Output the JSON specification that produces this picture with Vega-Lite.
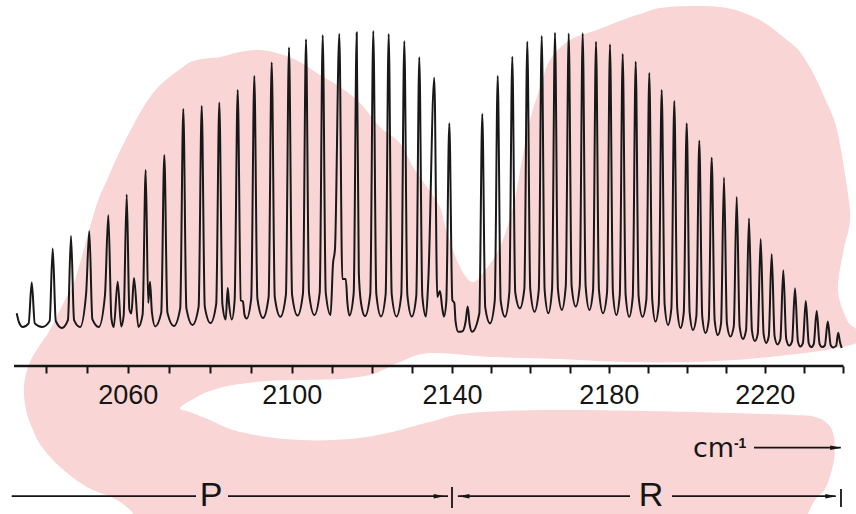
{
  "$schema": "https://vega.github.io/schema/vega-lite/v6.json",
  "width": 856,
  "height": 514,
  "padding": 0,
  "autosize": {"type": "none"},
  "background": "white",
  "config": {"view": {"stroke": null}},
  "datasets": {
    "blob": [
      {"o":1,"x":2072.76,"y":-26},{"o":2,"x":2076.41,"y":-22.67},{"o":3,"x":2080.07,"y":-20.33},{"o":4,"x":2085.68,"y":-18.33},
      {"o":5,"x":2093.98,"y":-17},{"o":6,"x":2102.07,"y":-16.67},{"o":7,"x":2112.05,"y":-16.33},{"o":8,"x":2119.54,"y":-15},
      {"o":9,"x":2123.28,"y":-13},{"o":10,"x":2127.02,"y":-10.67},{"o":11,"x":2134.51,"y":-7.67},{"o":12,"x":2150.47,"y":-9},
      {"o":13,"x":2167.31,"y":-9.67},{"o":14,"x":2184.44,"y":-10.67},{"o":15,"x":2201.62,"y":-10.67},{"o":16,"x":2218.54,"y":-9.33},
      {"o":17,"x":2235.72,"y":-6.67},{"o":18,"x":2244.0,"y":-4},{"o":19,"x":2243.6,"y":0},{"o":20,"x":2241.1,"y":3.33},
      {"o":21,"x":2238.79,"y":13.33},{"o":22,"x":2240.08,"y":25.67},{"o":23,"x":2241.87,"y":36.67},{"o":24,"x":2241.1,"y":47.67},
      {"o":25,"x":2238.54,"y":66.67},{"o":26,"x":2235.97,"y":75.67},{"o":27,"x":2232.38,"y":85.67},{"o":28,"x":2229.05,"y":92.67},
      {"o":29,"x":2225.72,"y":96.67},{"o":30,"x":2218.79,"y":103.33},{"o":31,"x":2210.33,"y":107.33},{"o":32,"x":2200.85,"y":108},
      {"o":33,"x":2193.15,"y":107.33},{"o":34,"x":2188.03,"y":105.33},{"o":35,"x":2182.13,"y":102.67},{"o":36,"x":2177.01,"y":100},
      {"o":37,"x":2170.12,"y":96.67},{"o":38,"x":2165.02,"y":90},{"o":39,"x":2162.46,"y":80.67},{"o":40,"x":2159.91,"y":70},
      {"o":41,"x":2157.87,"y":56.67},{"o":42,"x":2155.57,"y":41},{"o":43,"x":2152.25,"y":27.67},{"o":44,"x":2147.91,"y":19},
      {"o":45,"x":2145.11,"y":16},{"o":46,"x":2142.04,"y":21},{"o":47,"x":2138.75,"y":32.33},{"o":48,"x":2136.99,"y":41},
      {"o":49,"x":2133.75,"y":47.67},{"o":50,"x":2130.27,"y":54.33},{"o":51,"x":2127.02,"y":62.33},{"o":52,"x":2122.03,"y":67.67},
      {"o":53,"x":2117.04,"y":75.67},{"o":54,"x":2112.05,"y":81},{"o":55,"x":2107.06,"y":85},{"o":56,"x":2102.07,"y":89.33},
      {"o":57,"x":2097.15,"y":92},{"o":58,"x":2092.27,"y":93.33},{"o":59,"x":2087.39,"y":92.67},{"o":60,"x":2082.51,"y":91},
      {"o":61,"x":2076.9,"y":90},{"o":62,"x":2073.49,"y":87.67},{"o":63,"x":2066.17,"y":79},{"o":64,"x":2059.83,"y":64.33},
      {"o":65,"x":2054.95,"y":50},{"o":66,"x":2052.02,"y":40},{"o":67,"x":2047.15,"y":16.67},{"o":68,"x":2044.71,"y":10},
      {"o":69,"x":2041.05,"y":0},{"o":70,"x":2038.61,"y":-5},{"o":71,"x":2036.17,"y":-10.67},{"o":72,"x":2034.71,"y":-18.33},
      {"o":73,"x":2035.2,"y":-26.67},{"o":74,"x":2036.9,"y":-33.33},{"o":75,"x":2039.1,"y":-39},{"o":76,"x":2043.49,"y":-45.67},
      {"o":77,"x":2050.07,"y":-52.33},{"o":78,"x":2057.39,"y":-56.67},{"o":79,"x":2061.78,"y":-62},{"o":80,"x":2061.78,"y":-66.67},
      {"o":81,"x":2230.33,"y":-66.67},{"o":82,"x":2231.1,"y":-61.33},{"o":83,"x":2232.9,"y":-56.67},{"o":84,"x":2235.72,"y":-52.33},
      {"o":85,"x":2237.77,"y":-43.33},{"o":86,"x":2237.77,"y":-35.67},{"o":87,"x":2236.23,"y":-31.33},{"o":88,"x":2232.9,"y":-29},
      {"o":89,"x":2227.26,"y":-28.33},{"o":90,"x":2201.62,"y":-27.33},{"o":91,"x":2167.31,"y":-26.67},{"o":92,"x":2144.59,"y":-27.67},
      {"o":93,"x":2134.51,"y":-30.67},{"o":94,"x":2127.02,"y":-33.33},{"o":95,"x":2118.79,"y":-35.67},{"o":96,"x":2110.3,"y":-36.67},
      {"o":97,"x":2102.07,"y":-36.67},{"o":98,"x":2093.98,"y":-35.67},{"o":99,"x":2085.68,"y":-33.33},{"o":100,"x":2080.07,"y":-30},
      {"o":101,"x":2075.2,"y":-27.33}
    ],
    "spectrum": [
      {"x":2032.93,"y":5.6},{"x":2033.5,"y":2.5},{"x":2034.4,"y":1.0},
      {"x":2035.84,"y":2.2},{"x":2036.59,"y":15.8},{"x":2037.34,"y":2.2},{"x":2039.15,"y":1.0},
      {"x":2040.96,"y":3.0},{"x":2041.71,"y":27.2},{"x":2042.46,"y":3.0},{"x":2043.94,"y":0.7},
      {"x":2045.42,"y":3.3},{"x":2046.17,"y":31.3},{"x":2046.92,"y":3.3},{"x":2048.4,"y":1.0},
      {"x":2049.85,"y":12.0},{"x":2050.63,"y":33.0},{"x":2051.38,"y":3.6},{"x":2052.95,"y":1.0},
      {"x":2054.45,"y":11.5},{"x":2055.27,"y":38.3},{"x":2056.02,"y":4.0},{"x":2056.6,"y":1.0},{"x":2057.56,"y":16.1},{"x":2058.4,"y":1.2},
      {"x":2059.01,"y":4.7},{"x":2059.76,"y":45.2},{"x":2060.4,"y":7.0},{"x":2060.9,"y":5.5},{"x":2061.54,"y":17.3},{"x":2062.6,"y":1.0},
      {"x":2063.64,"y":5.2},{"x":2064.39,"y":53.3},{"x":2065.0,"y":9.0},{"x":2065.44,"y":16.1},{"x":2065.9,"y":6.0},{"x":2066.7,"y":1.2},
      {"x":2068.18,"y":5.8},{"x":2068.93,"y":58.3},{"x":2069.68,"y":5.8},{"x":2071.25,"y":1.3},
      {"x":2072.81,"y":7.3},{"x":2073.56,"y":73.7},{"x":2074.31,"y":7.3},{"x":2075.81,"y":1.7},
      {"x":2077.3,"y":7.8},{"x":2078.05,"y":74.7},{"x":2078.8,"y":7.8},{"x":2080.2,"y":2.3},
      {"x":2081.59,"y":8.7},{"x":2082.34,"y":75.8},{"x":2083.09,"y":8.7},{"x":2083.9,"y":3.5},{"x":2084.4,"y":14.0},{"x":2084.7,"y":9.0},{"x":2085.4,"y":3.5},
      {"x":2086.08,"y":9.9},{"x":2086.83,"y":80.0},{"x":2087.58,"y":9.9},{"x":2088.1,"y":9.5},{"x":2088.5,"y":5.0},{"x":2089.0,"y":3.8},
      {"x":2090.13,"y":10.5},{"x":2090.88,"y":84.7},{"x":2091.63,"y":10.5},{"x":2093.0,"y":4.0},
      {"x":2094.37,"y":11.0},{"x":2095.12,"y":89.2},{"x":2095.87,"y":11.0},{"x":2097.23,"y":4.4},
      {"x":2098.59,"y":11.8},{"x":2099.34,"y":94.2},{"x":2100.09,"y":11.8},{"x":2101.46,"y":4.8},
      {"x":2102.82,"y":12.3},{"x":2103.57,"y":96.9},{"x":2104.32,"y":12.3},{"x":2105.66,"y":5.0},
      {"x":2106.99,"y":12.5},{"x":2107.74,"y":98.3},{"x":2108.49,"y":12.5},{"x":2109.7,"y":5.0},{"x":2110.3,"y":22.0},{"x":2110.8,"y":27.0},
      {"x":2111.88,"y":98.7},{"x":2112.63,"y":17.0},{"x":2113.5,"y":17.0},{"x":2113.9,"y":9.0},{"x":2114.4,"y":4.8},
      {"x":2115.47,"y":12.3},{"x":2116.22,"y":99.2},{"x":2116.75,"y":19.0},{"x":2117.3,"y":9.0},{"x":2118.29,"y":4.6},
      {"x":2119.61,"y":12.1},{"x":2120.36,"y":99.7},{"x":2121.11,"y":12.1},{"x":2122.28,"y":4.5},
      {"x":2123.45,"y":12.0},{"x":2124.2,"y":98.7},{"x":2124.95,"y":12.0},{"x":2126.15,"y":4.5},
      {"x":2127.35,"y":11.8},{"x":2128.1,"y":96.3},{"x":2128.85,"y":11.8},{"x":2129.97,"y":4.5},
      {"x":2131.09,"y":11.4},{"x":2131.84,"y":90.9},{"x":2132.59,"y":11.4},{"x":2133.5,"y":4.5},{"x":2134.1,"y":17.0},
      {"x":2135.58,"y":84.1},{"x":2136.33,"y":11.0},{"x":2137.0,"y":13.0},{"x":2137.6,"y":7.0},{"x":2138.0,"y":4.5},
      {"x":2138.58,"y":9.6},{"x":2139.33,"y":68.9},{"x":2140.08,"y":10.0},{"x":2140.6,"y":9.0},{"x":2140.9,"y":3.0},{"x":2141.6,"y":-0.6},
      {"x":2142.7,"y":-0.4},{"x":2143.5,"y":3.0},{"x":2144.0,"y":7.8},{"x":2144.5,"y":2.0},{"x":2145.1,"y":-0.6},
      {"x":2146.98,"y":5.6},{"x":2147.73,"y":72.0},{"x":2148.48,"y":7.6},{"x":2149.7,"y":2.2},
      {"x":2150.92,"y":9.8},{"x":2151.67,"y":84.7},{"x":2152.42,"y":9.8},{"x":2153.53,"y":4.4},
      {"x":2154.64,"y":12.6},{"x":2155.39,"y":91.1},{"x":2156.14,"y":12.6},{"x":2157.31,"y":7.2},
      {"x":2158.47,"y":13.8},{"x":2159.22,"y":96.1},{"x":2159.97,"y":13.8},{"x":2161.06,"y":6.1},
      {"x":2162.15,"y":13.3},{"x":2162.9,"y":98.0},{"x":2163.65,"y":13.3},{"x":2164.6,"y":5.6},
      {"x":2165.54,"y":13.6},{"x":2166.29,"y":99.1},{"x":2167.04,"y":13.6},{"x":2168.04,"y":6.7},
      {"x":2169.04,"y":14.6},{"x":2169.79,"y":98.8},{"x":2170.54,"y":14.6},{"x":2171.58,"y":7.8},
      {"x":2172.61,"y":14.6},{"x":2173.36,"y":98.9},{"x":2174.11,"y":14.6},{"x":2175.06,"y":6.7},
      {"x":2176.01,"y":13.4},{"x":2176.76,"y":96.1},{"x":2177.51,"y":13.4},{"x":2178.55,"y":5.6},
      {"x":2179.58,"y":12.5},{"x":2180.33,"y":95.2},{"x":2181.08,"y":12.5},{"x":2181.96,"y":5.0},
      {"x":2182.84,"y":11.7},{"x":2183.59,"y":92.0},{"x":2184.34,"y":11.7},{"x":2185.26,"y":4.4},
      {"x":2186.17,"y":11.2},{"x":2186.92,"y":89.4},{"x":2187.67,"y":11.2},{"x":2188.67,"y":4.4},
      {"x":2189.66,"y":10.2},{"x":2190.41,"y":85.7},{"x":2191.16,"y":10.2},{"x":2192.0,"y":2.8},
      {"x":2192.84,"y":8.5},{"x":2193.59,"y":80.0},{"x":2194.34,"y":8.5},{"x":2195.21,"y":1.7},
      {"x":2196.07,"y":7.2},{"x":2196.82,"y":76.3},{"x":2197.57,"y":7.2},{"x":2198.41,"y":0.7},
      {"x":2199.25,"y":5.9},{"x":2200.0,"y":68.9},{"x":2200.75,"y":5.9},{"x":2201.62,"y":0.0},
      {"x":2202.48,"y":4.6},{"x":2203.23,"y":63.1},{"x":2203.98,"y":4.6},{"x":2204.82,"y":-1.0},
      {"x":2205.66,"y":3.4},{"x":2206.41,"y":57.4},{"x":2207.16,"y":3.4},{"x":2207.99,"y":-1.7},
      {"x":2208.81,"y":2.2},{"x":2209.56,"y":50.8},{"x":2210.31,"y":2.2},{"x":2211.19,"y":-2.2},
      {"x":2212.07,"y":1.2},{"x":2212.82,"y":44.4},{"x":2213.57,"y":1.2},{"x":2214.4,"y":-3.0},
      {"x":2215.22,"y":-0.1},{"x":2215.97,"y":37.2},{"x":2216.72,"y":-0.1},{"x":2217.47,"y":-3.7},
      {"x":2218.22,"y":-1.3},{"x":2218.97,"y":30.3},{"x":2219.72,"y":-1.3},{"x":2220.38,"y":-4.3},
      {"x":2221.04,"y":-2.1},{"x":2221.79,"y":25.3},{"x":2222.54,"y":-2.1},{"x":2223.28,"y":-4.8},
      {"x":2224.02,"y":-3.0},{"x":2224.77,"y":19.9},{"x":2225.52,"y":-3.0},{"x":2226.27,"y":-5.2},
      {"x":2227.02,"y":-3.8},{"x":2227.77,"y":13.9},{"x":2228.52,"y":-3.8},{"x":2229.16,"y":-5.5},
      {"x":2229.79,"y":-4.4},{"x":2230.54,"y":9.7},{"x":2231.29,"y":-4.4},{"x":2231.94,"y":-5.7},
      {"x":2232.58,"y":-4.7},{"x":2233.33,"y":6.3},{"x":2234.08,"y":-4.7},{"x":2234.76,"y":-5.7},
      {"x":2235.43,"y":-5.1},{"x":2236.18,"y":2.8},{"x":2236.93,"y":-5.1},{"x":2237.52,"y":-5.8},
      {"x":2238.3,"y":-5.3},{"x":2238.85,"y":-0.9},{"x":2239.3,"y":-4.0},{"x":2239.74,"y":-6.0}
    ],
    "axisline": [{"x": 2032.27, "x2": 2240.2, "y": -12}],
    "branchlines": [
      {"x": 2031.71, "x2": 2076.66, "y": -55.4},
      {"x": 2084.46, "x2": 2139.0, "y": -55.4},
      {"x": 2141.5, "x2": 2185.46, "y": -55.4},
      {"x": 2196.23, "x2": 2238.2, "y": -55.4},
      {"x": 2217.26, "x2": 2239.5, "y": -39.23}
    ],
    "bars": [
      {"x": 2140.0, "y": -52.33, "y2": -59.33},
      {"x": 2239.56, "y": -53.0, "y2": -59.0}
    ],
    "headsRight": [
      {"x": 2136.8, "y": -55.4},
      {"x": 2236.95, "y": -55.4},
      {"x": 2238.2, "y": -39.23}
    ],
    "headsLeft": [
      {"x": 2143.06, "y": -55.4}
    ],
    "bigLetters": [
      {"x": 2080.32, "y": -58.67, "t": "P"},
      {"x": 2190.85, "y": -58.67, "t": "R"}
    ],
    "unitText": [{"x": 2201.62, "y": -42.22, "t": "cm"}],
    "unitExp": [{"x": 2212.1, "y": -39.4, "t": "-1"}]
  },
  "encoding": {
    "x": {
      "field": "x",
      "type": "quantitative",
      "scale": {
        "domain": [2028.85, 2040, 2100, 2140, 2180, 2240, 2243.41],
        "range": [0, 45.7, 291.7, 452, 608.7, 842.7, 856],
        "nice": false,
        "zero": false
      },
      "axis": {
        "orient": "bottom",
        "offset": -148,
        "zindex": 2,
        "domain": false,
        "grid": false,
        "title": null,
        "values": [2040, 2050, 2060, 2070, 2080, 2090, 2100, 2110, 2120, 2130, 2140, 2150, 2160, 2170, 2180, 2190, 2200, 2210, 2220, 2230, 2240],
        "labelExpr": "(datum.value - 2060) % 40 === 0 ? '' + datum.value : ''",
        "labelOverlap": false,
        "labelBound": false,
        "labelFlush": false,
        "tickSize": 7,
        "tickWidth": 2,
        "tickColor": "#151515",
        "labelFont": "Liberation Sans",
        "labelFontSize": 27,
        "labelColor": "#151515",
        "labelPadding": 9
      }
    },
    "y": {
      "field": "y",
      "type": "quantitative",
      "scale": {"domain": [-61.333, 110], "nice": false, "zero": false},
      "axis": null
    }
  },
  "layer": [
    {
      "data": {"name": "blob"},
      "mark": {"type": "line", "filled": true, "fill": "#f9d5d5", "strokeOpacity": 0, "interpolate": "cardinal-closed"},
      "encoding": {"order": {"field": "o", "type": "quantitative"}}
    },
    {
      "data": {"name": "spectrum"},
      "mark": {"type": "line", "interpolate": "monotone", "color": "#181818", "strokeWidth": 2}
    },
    {
      "data": {"name": "axisline"},
      "mark": {"type": "rule", "color": "#151515", "strokeWidth": 2.6},
      "encoding": {"x2": {"field": "x2"}}
    },
    {
      "data": {"name": "branchlines"},
      "mark": {"type": "rule", "color": "#151515", "strokeWidth": 1.8},
      "encoding": {"x2": {"field": "x2"}}
    },
    {
      "data": {"name": "bars"},
      "mark": {"type": "rule", "color": "#151515", "strokeWidth": 1.8},
      "encoding": {"y2": {"field": "y2"}}
    },
    {
      "data": {"name": "headsRight"},
      "mark": {"type": "point", "shape": "M -1 -0.4 L 1 0 L -1 0.4 Z", "filled": true, "color": "#151515", "size": 120, "opacity": 1}
    },
    {
      "data": {"name": "headsLeft"},
      "mark": {"type": "point", "shape": "M 1 -0.4 L -1 0 L 1 0.4 Z", "filled": true, "color": "#151515", "size": 120, "opacity": 1}
    },
    {
      "data": {"name": "bigLetters"},
      "mark": {"type": "text", "font": "Liberation Sans", "fontSize": 34, "align": "center", "baseline": "alphabetic", "color": "#151515"},
      "encoding": {"text": {"field": "t"}}
    },
    {
      "data": {"name": "unitText"},
      "mark": {"type": "text", "font": "DejaVu Sans", "fontSize": 27, "align": "left", "baseline": "alphabetic", "color": "#151515"},
      "encoding": {"text": {"field": "t"}}
    },
    {
      "data": {"name": "unitExp"},
      "mark": {"type": "text", "font": "Liberation Sans", "fontSize": 14, "fontWeight": "bold", "align": "left", "baseline": "alphabetic", "color": "#151515"},
      "encoding": {"text": {"field": "t"}}
    }
  ]
}
